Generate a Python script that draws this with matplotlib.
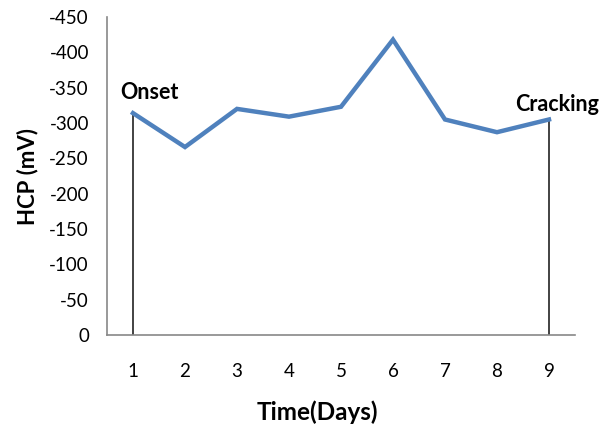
import matplotlib.pyplot as plt

days = [1, 2, 3, 4, 5, 6, 7, 8, 9]
hcp = [-314, -266, -320, -309, -323, -418, -305, -287, -305]
yticks = [0, -50, -100, -150, -200, -250, -300, -350, -400, -450]

plt.rcParams['font.family'] = ['Lato', 'DejaVu Sans']
plt.rcParams['axes.unicode_minus'] = False

fig = plt.figure(figsize=(6.1, 4.32), dpi=100)
ax = fig.add_axes([0.1754, 0.2245, 0.7672, 0.7361])

ax.plot(days, hcp, color='#4F81BD', lw=3.2, solid_joinstyle='miter', zorder=3)

# marker lines for onset and cracking
ax.vlines([days[0], days[-1]], 0, [hcp[0], hcp[-1]], color='#222222', lw=1.2, zorder=2)
ax.text(days[0] - 0.24, hcp[0] - 14, 'Onset', fontsize=15.5, fontweight='bold', ha='left', va='bottom')
ax.text(days[-1] - 0.66, hcp[-1] - 6, 'Cracking', fontsize=15.5, fontweight='bold', ha='left', va='bottom')

ax.set_xlim(0.5, 9.5)
ax.set_ylim(0, -450)
ax.set_xticks(days)
ax.set_yticks(yticks)
ax.tick_params(length=0, labelsize=13.5, pad=13)
ax.tick_params(axis='x', pad=20)

for s in ['top', 'right']:
    ax.spines[s].set_visible(False)
for s in ['left', 'bottom']:
    ax.spines[s].set_color('#888888')
    ax.spines[s].set_linewidth(1.2)

ax.set_xlabel('Time(Days)', fontsize=17.5, fontweight='bold')
ax.xaxis.set_label_coords(0.449, -0.205)
ax.set_ylabel('HCP (mV)', fontsize=16, fontweight='bold', labelpad=8)

fig.savefig('out.png', dpi=100)
